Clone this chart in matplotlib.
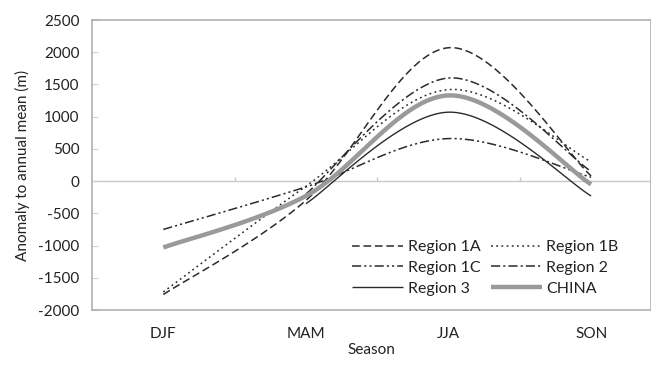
import numpy as np
import matplotlib
matplotlib.use("Agg")
import matplotlib.pyplot as plt

# seasonal anomaly values (None = no point)
seasons = ["DJF", "MAM", "JJA", "SON"]
region_1a = [-1760, -300, 2070, 80]
region_1b = [-1720, -80, 1420, 300]
region_1c = [-750, -90, 660, 60]
region_2 = [None, -200, 1600, 150]
region_3 = [None, -350, 1070, -230]
china = [-1030, -230, 1330, -50]
y_ticks = [-2000, -1500, -1000, -500, 0, 500, 1000, 1500, 2000, 2500]

plt.rcParams["font.family"] = ["Lato", "DejaVu Sans"]


def smooth(xs, ys, n=40):
    # Excel-style smoothed line (Catmull-Rom through the points)
    xs = np.asarray(xs, float)
    ys = np.asarray(ys, float)
    px = np.concatenate([[xs[0]], xs, [xs[-1]]])
    py = np.concatenate([[ys[0]], ys, [ys[-1]]])
    out_x, out_y = [], []
    t = np.linspace(0, 1, n)
    for i in range(1, len(px) - 2):
        p0, p1, p2, p3 = px[i - 1], px[i], px[i + 1], px[i + 2]
        q0, q1, q2, q3 = py[i - 1], py[i], py[i + 1], py[i + 2]
        c1x, c1y = p1 + (p2 - p0) / 6, q1 + (q2 - q0) / 6
        c2x, c2y = p2 - (p3 - p1) / 6, q2 - (q3 - q1) / 6
        bx = (1 - t) ** 3 * p1 + 3 * (1 - t) ** 2 * t * c1x + 3 * (1 - t) * t ** 2 * c2x + t ** 3 * p2
        by = (1 - t) ** 3 * q1 + 3 * (1 - t) ** 2 * t * c1y + 3 * (1 - t) * t ** 2 * c2y + t ** 3 * q2
        out_x.extend(bx)
        out_y.extend(by)
    return np.array(out_x), np.array(out_y)


def series_xy(vals):
    xs = [i for i, v in enumerate(vals) if v is not None]
    ys = [v for v in vals if v is not None]
    return smooth(xs, ys)


fig = plt.figure(figsize=(6.51, 3.69), dpi=100)
ax = fig.add_axes([92 / 651, 1 - 310 / 369, 1 - 92 / 651, 290 / 369])

dark = "#2b2b2b"
styles = [
    ("Region 1A", region_1a, dict(color=dark, lw=1.1, dashes=(5, 2.5))),
    ("Region 1B", region_1b, dict(color=dark, lw=1.1, dashes=(1.2, 2.2))),
    ("Region 1C", region_1c, dict(color=dark, lw=1.1, dashes=(6, 2, 1.4, 2, 1.4, 2))),
    ("Region 2", region_2, dict(color=dark, lw=1.1, dashes=(6, 2, 1.4, 2))),
    ("Region 3", region_3, dict(color=dark, lw=1.0)),
    ("CHINA", china, dict(color="#9a9a9a", lw=3.2)),
]
handles = {}
for name, vals, kw in styles:
    x, y = series_xy(vals)
    handles[name], = ax.plot(x, y, label=name, solid_capstyle="butt", **kw)

# category axis crossing at zero
ax.axhline(0, color="#c8c8c8", lw=1.0, zorder=0)
ax.vlines([0.5, 1.5, 2.5], 0, 60, color="#c8c8c8", lw=1.0, zorder=0)

ax.set_xlim(-0.5, 3.42)
ax.set_ylim(-2000, 2500)
ax.set_xticks(range(len(seasons)))
ax.set_xticklabels(seasons, fontsize=11)
ax.set_yticks(y_ticks)
ax.set_yticklabels([str(v) for v in y_ticks], fontsize=11)
ax.tick_params(axis="x", length=0, pad=12, colors="#222222")
ax.tick_params(axis="y", direction="in", length=4, color="#d0d0d0", pad=9,
               labelcolor="#222222")
for s in ax.spines.values():
    s.set_color("#b0b0b0")
    s.set_linewidth(1.2)

ax.set_xlabel("Season", fontsize=11, labelpad=2, color="#222222")
ax.set_ylabel("Anomaly to annual mean (m)", fontsize=11, labelpad=6, color="#222222")

# row-wise legend order: 1A 1B / 1C 2 / 3 CHINA
order = ["Region 1A", "Region 1C", "Region 3", "Region 1B", "Region 2", "CHINA"]
ax.legend([handles[k] for k in order], order, ncol=2, loc="lower left",
          bbox_to_anchor=(0.44, 0.0), frameon=False, fontsize=11.5,
          handlelength=3.2, handletextpad=0.3, columnspacing=0.6,
          labelspacing=0.4, labelcolor="#222222")

fig.savefig("out.png", dpi=100)
